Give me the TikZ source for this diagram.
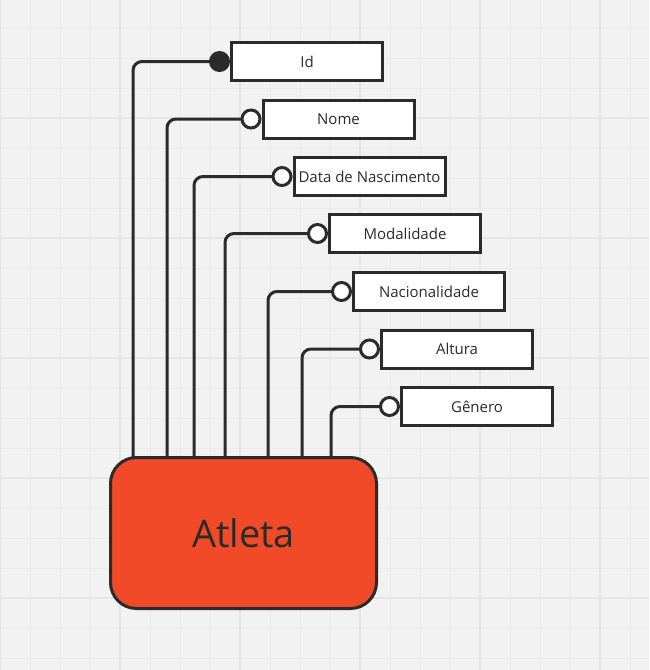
\documentclass[tikz,border=0pt]{standalone}
\usepackage{fontspec}
\setmainfont{Open Sans}
\usetikzlibrary{positioning}

\definecolor{paper}{HTML}{F2F2F2}
\definecolor{gridminor}{HTML}{EAEAEA}
\definecolor{gridmajor}{HTML}{E5E5E5}
\definecolor{ink}{HTML}{2B2B2B}
\definecolor{entityred}{HTML}{F04A28}

\tikzset{
    attr/.style={draw=ink, line width=3pt, fill=white, outer sep=0pt, inner sep=0pt,
        minimum width=151pt, minimum height=38pt, text=ink,
        font=\fontsize{15}{18}\selectfont},
    entity/.style={draw=ink, line width=3pt, fill=entityred, outer sep=0pt,
        rounded corners=26pt, minimum width=266pt, minimum height=151pt,
        text=ink, font=\fontsize{38}{44}\selectfont},
    optdot/.style={circle, draw=ink, line width=3pt, fill=white, inner sep=0pt,
        outer sep=0pt, minimum size=18pt},
    keydot/.style={optdot, fill=ink},
    link/.style={draw=ink, line width=3pt, rounded corners=9pt}
}

\begin{document}
\begin{tikzpicture}[x=1pt, y=-1pt]

% background
    \fill[paper] (0,0) rectangle (649,670);
    \useasboundingbox (0,0) rectangle (649,670);
    \begin{scope}[shift={(0,-2)}]
        \draw[gridminor, line width=1pt] (0,0) grid[step=30pt] (649,690);
        \draw[gridmajor, line width=1.2pt] (0,0) grid[step=120pt] (649,690);
    \end{scope}

% attributes
    \node[attr] (id)   at (307,61.5)   {Id};
    \node[attr] (nome) at (338.5,119)  {Nome};
    \node[attr] (data) at (369.5,176.5) {Data de Nascimento};
    \node[attr] (mod)  at (405,233.5)  {Modalidade};
    \node[attr] (nac)  at (429,291.5)  {Nacionalidade};
    \node[attr] (alt)  at (457,349)    {Altura};
    \node[attr] (gen)  at (477,406.5)  {Gênero};

% markers
    \node[keydot, left=3pt of id]   (did)   {};
    \node[optdot, left=3pt of nome] (dnome) {};
    \node[optdot, left=3pt of data] (ddata) {};
    \node[optdot, left=3pt of mod]  (dmod)  {};
    \node[optdot, left=3pt of nac]  (dnac)  {};
    \node[optdot, left=3pt of alt]  (dalt)  {};
    \node[optdot, left=3pt of gen]  (dgen)  {};

% entity
    \node[entity] (atleta) at (243.5,533) {Atleta};

% connectors
    \draw[link] ([xshift=22.5pt]atleta.north west) |- (did);
    \draw[link] ([xshift=56.5pt]atleta.north west) |- (dnome);
    \draw[link] ([xshift=83.5pt]atleta.north west) |- (ddata);
    \draw[link] ([xshift=114.5pt]atleta.north west) |- (dmod);
    \draw[link] ([xshift=157.5pt]atleta.north west) |- (dnac);
    \draw[link] ([xshift=191.5pt]atleta.north west) |- (dalt);
    \draw[link] ([xshift=220.5pt]atleta.north west) |- (dgen);

\end{tikzpicture}
\end{document}
